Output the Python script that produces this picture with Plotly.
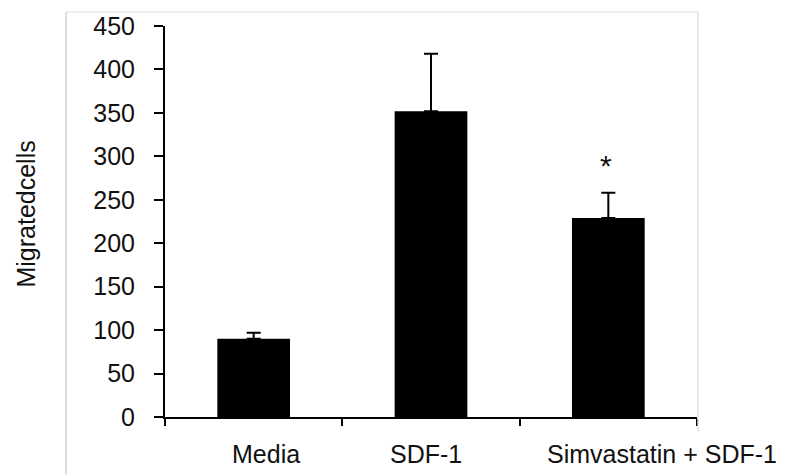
import plotly.graph_objects as go

categories = ["Media", "SDF-1", "Simvastatin + SDF-1"]
migrated_cells = [90, 352, 229]
error_up = [7, 66, 29]
error_down = [0, 0, 0]
significance = ["", "", "*"]
significance_y = [0, 0, 290]
label_shift = [12, -5, 54]
y_ticks = [0, 50, 100, 150, 200, 250, 300, 350, 400, 450]

FONT = "Liberation Sans, Arial, sans-serif"

fig = go.Figure()
fig.add_trace(go.Bar(
    x=categories,
    y=migrated_cells,
    width=0.41,
    marker=dict(color="#000000", line=dict(color="#000000", width=0)),
    error_y=dict(type="data", symmetric=False, array=error_up, arrayminus=error_down,
                 color="#000000", thickness=2, width=7),
    showlegend=False,
))

annotations = []
for cat, lab, sh in zip(categories, categories, label_shift):
    annotations.append(dict(x=cat, y=-0.094, xref="x", yref="paper", text=lab,
                            showarrow=False, xshift=sh, yanchor="middle",
                            font=dict(family=FONT, size=25, color="#111111")))
for cat, s, sy in zip(categories, significance, significance_y):
    if s:
        annotations.append(dict(x=cat, y=sy, xref="x", yref="y", text=s,
                                showarrow=False, xshift=-2, yanchor="middle",
                                font=dict(family=FONT, size=30, color="#111111")))
annotations.append(dict(x=-0.2615, y=0.52, xref="paper", yref="paper",
                        text="Migratedcells", textangle=-90, showarrow=False,
                        xanchor="center", yanchor="middle",
                        font=dict(family=FONT, size=25, color="#111111")))

shapes = [
    dict(type="line", xref="paper", yref="paper", x0=-0.186, x1=1.002, y0=1.0355, y1=1.0355,
         line=dict(color="#eeeeee", width=2)),
    dict(type="line", xref="paper", yref="paper", x0=-0.186, x1=-0.186, y0=1.0355, y1=-0.15,
         line=dict(color="#d4d4d4", width=1.5)),
    dict(type="line", xref="paper", yref="paper", x0=1.002, x1=1.002, y0=1.0355, y1=-0.038,
         line=dict(color="#e2e2e2", width=1.5)),
]

fig.update_layout(
    width=794, height=475,
    margin=dict(l=165, r=97, t=23, b=58),
    paper_bgcolor="white", plot_bgcolor="white",
    font=dict(family=FONT, color="#111111"),
    annotations=annotations,
    shapes=shapes,
    xaxis=dict(type="category", range=[-0.5, 2.5], showticklabels=False,
               ticks="outside", tickson="boundaries", ticklen=7, tickwidth=2,
               tickcolor="#000000", showline=True, linecolor="#000000", linewidth=2,
               showgrid=False, zeroline=False),
    yaxis=dict(range=[0, 450], tickvals=y_ticks, ticks="outside", ticklen=9, tickwidth=2,
               tickcolor="#000000", showline=True, linecolor="#000000", linewidth=2,
               showgrid=False, zeroline=False, ticklabelstandoff=14,
               tickfont=dict(family=FONT, size=25, color="#111111")),
)

fig.write_html("out.html", config={"displayModeBar": False},
               post_script="document.body.style.margin='0';document.body.style.padding='0';document.body.style.overflow='hidden';")
